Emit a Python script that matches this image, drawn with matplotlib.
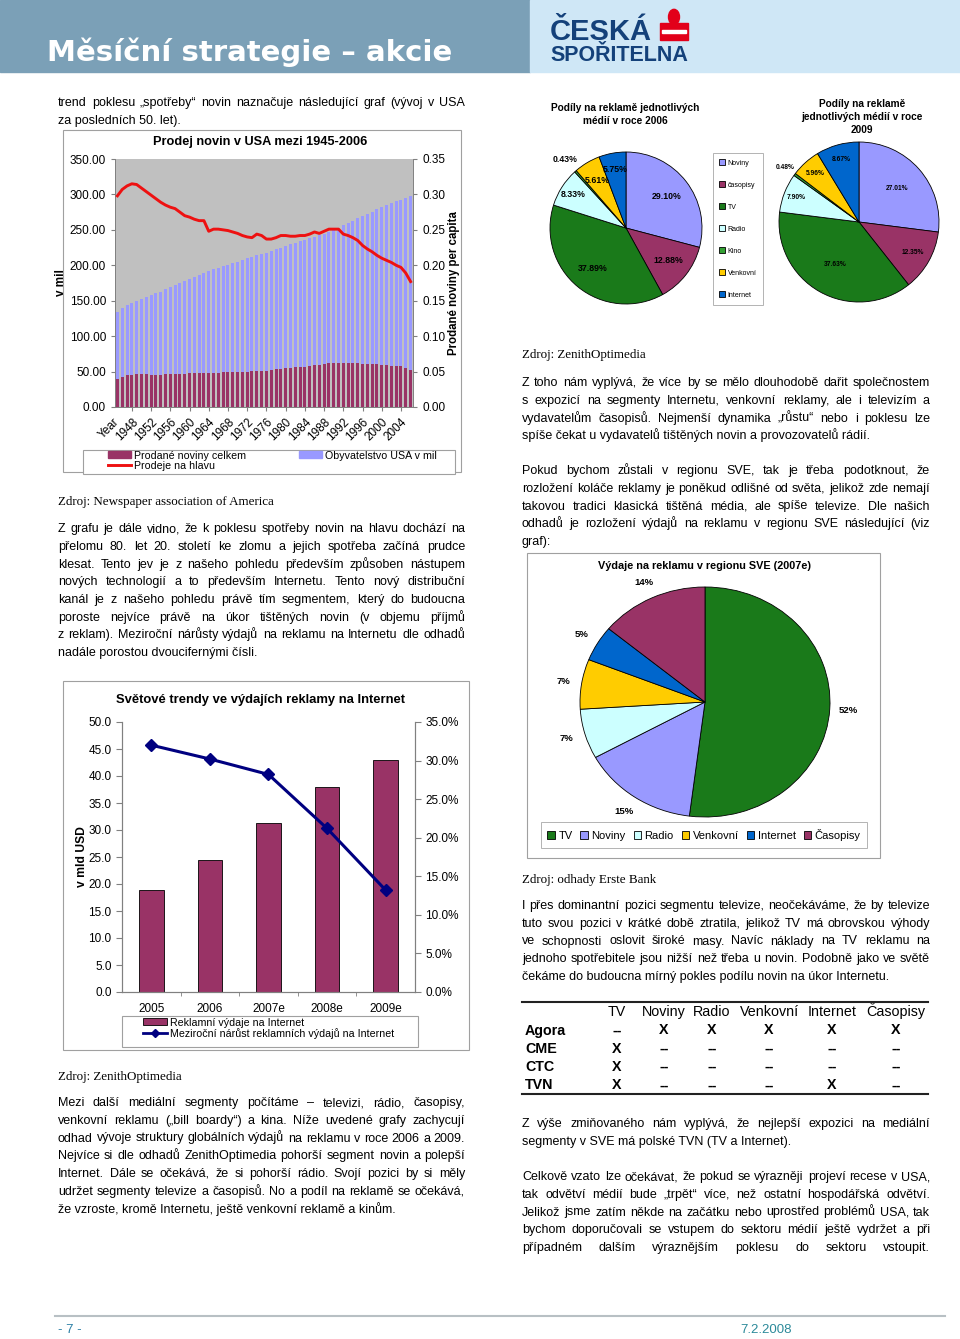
import matplotlib
matplotlib.use('Agg')
import matplotlib.pyplot as plt
from matplotlib.patches import Rectangle, Circle, Patch
from matplotlib.lines import Line2D
import numpy as np

plt.rcParams['font.family'] = ['Liberation Sans', 'DejaVu Sans']

W, H = 960, 1339

# --- newspaper sales in USA 1945-2006 ---
years = list(range(1945, 2007))
population = [134.0, 140.0, 144.1, 146.6, 149.2, 152.3, 154.9, 157.6, 160.2, 163.0,
              165.9, 168.9, 172.0, 174.9, 177.8, 180.7, 183.7, 186.5, 189.2, 191.9,
              194.3, 196.6, 198.7, 200.7, 202.7, 205.1, 207.7, 209.9, 211.9, 213.9,
              216.0, 218.0, 220.2, 222.6, 225.1, 227.2, 229.5, 231.7, 233.8, 235.8,
              237.9, 240.1, 242.3, 244.5, 246.8, 249.6, 253.0, 256.5, 259.9, 263.1,
              266.3, 269.4, 272.6, 275.9, 279.0, 282.2, 285.0, 287.6, 290.1, 292.8,
              295.5, 298.4]
circulation = [40.0, 43.0, 44.5, 45.5, 46.0, 46.5, 46.0, 45.5, 45.5, 45.5,
               46.0, 46.5, 46.5, 46.5, 47.0, 47.5, 47.5, 48.0, 48.0, 47.5,
               47.5, 48.0, 49.0, 49.0, 49.5, 49.5, 50.0, 50.0, 50.5, 51.0,
               51.0, 51.5, 52.0, 53.0, 54.0, 55.0, 55.5, 56.0, 56.5, 57.0,
               58.0, 59.0, 59.5, 61.0, 61.5, 62.5, 62.0, 62.0, 62.0, 62.0,
               61.5, 61.0, 60.5, 60.0, 60.0, 59.5, 59.0, 58.5, 58.0, 57.5,
               55.0, 52.5]
per_capita = [0.298, 0.307, 0.312, 0.315, 0.314, 0.309, 0.304, 0.299, 0.294, 0.289,
              0.285, 0.282, 0.280, 0.275, 0.270, 0.268, 0.265, 0.263, 0.263, 0.248,
              0.251, 0.251, 0.250, 0.249, 0.247, 0.245, 0.242, 0.240, 0.239, 0.244,
              0.242, 0.237, 0.237, 0.239, 0.242, 0.242, 0.241, 0.241, 0.242, 0.242,
              0.244, 0.247, 0.245, 0.248, 0.251, 0.251, 0.251, 0.244, 0.242, 0.239,
              0.235, 0.228, 0.223, 0.219, 0.214, 0.210, 0.207, 0.204, 0.200, 0.197,
              0.189, 0.177]

# --- internet ad spend ---
net_years = ['2005', '2006', '2007e', '2008e', '2009e']
net_spend = [18.8, 24.5, 31.3, 38.0, 42.9]
net_growth = [32.0, 30.2, 28.2, 21.2, 13.2]

# --- media shares ---
media = ['Noviny', 'časopisy', 'TV', 'Radio', 'Kino', 'Venkovní', 'Internet']
media_colors = ['#9999ff', '#993366', '#1a7a1a', '#ccffff', '#33a033', '#ffcc00', '#0066cc']
share_2006 = [29.10, 12.88, 37.89, 8.33, 0.43, 5.61, 5.75]
share_2009 = [27.01, 12.35, 37.63, 7.90, 0.48, 5.96, 8.67]

sve_media = ['TV', 'Noviny', 'Radio', 'Venkovní', 'Internet', 'Časopisy']
sve_colors = ['#1a7a1a', '#9999ff', '#ccffff', '#ffcc00', '#0066cc', '#993366']
sve_share = [52, 15, 7, 7, 5, 14]

table_cols = ['TV', 'Noviny', 'Radio', 'Venkovní', 'Internet', 'Časopisy']
table_rows = ['Agora', 'CME', 'CTC', 'TVN']
table_cells = [['--', 'X', 'X', 'X', 'X', 'X'],
               ['X', '--', '--', '--', '--', '--'],
               ['X', '--', '--', '--', '--', '--'],
               ['X', '--', '--', '--', 'X', '--']]

fig = plt.figure(figsize=(9.6, 13.39), dpi=100)
renderer = fig.canvas.get_renderer()


def fx(x):
    return x / W


def fy(y):
    return 1 - y / H


def box(x0, y0, x1, y1):
    return [x0 / W, 1 - y1 / H, (x1 - x0) / W, (y1 - y0) / H]


def frame(x0, y0, x1, y1, color='#a0a0a0', face='none', lw=0.8):
    fig.patches.append(Rectangle((fx(x0), fy(y1)), (x1 - x0) / W, (y1 - y0) / H,
                                 transform=fig.transFigure, facecolor=face,
                                 edgecolor=color, lw=lw))


def put_line(text, x0, x1, y, justify, **kw):
    """Write one line of text, spread to full width when justify"""
    words = text.split()
    if not justify or len(words) < 2:
        fig.text(fx(x0), fy(y), text, va='baseline', **kw)
        return
    objs = [fig.text(0, fy(y), w, va='baseline', **kw) for w in words]
    widths = [o.get_window_extent(renderer).width for o in objs]
    gap = (x1 - x0 - sum(widths)) / (len(words) - 1)
    x = x0
    for o, w in zip(objs, widths):
        o.set_x(fx(x))
        x += w + gap


def paragraph(lines, x0, x1, y0, last=False, step=17.75):
    for i, line in enumerate(lines):
        justify = i < len(lines) - 1 or last
        put_line(line, x0, x1, y0 + 5 + i * step, justify, fontsize=9.03)


def source(text, x, y):
    fig.text(fx(x), fy(y + 4), text, va='baseline', fontsize=9.35,
             family='Liberation Serif')


# header
fig.patches.append(Rectangle((0, fy(72)), fx(530), 72 / H, transform=fig.transFigure,
                             color='#7ba0b7'))
fig.patches.append(Rectangle((fx(530), fy(72)), 1 - fx(530), 72 / H,
                             transform=fig.transFigure, color='#cfe7f6'))
fig.text(fx(47), fy(61), 'Měsíční strategie – akcie', color='white', fontsize=21,
         fontweight='bold', family='DejaVu Sans', va='baseline')
fig.text(fx(550), fy(40), 'ČESKÁ', color='#14417a', fontsize=21, fontweight='bold',
         va='baseline')
fig.text(fx(550), fy(61), 'SPOŘITELNA', color='#14417a', fontsize=15.5,
         fontweight='bold', va='baseline')
fig.patches.append(Rectangle((fx(660), fy(40)), 28 / W, 17 / H, transform=fig.transFigure,
                             color='#e2001a'))
fig.patches.append(Rectangle((fx(662), fy(33)), 24 / W, 3 / H, transform=fig.transFigure,
                             color='white'))
fig.patches.append(Circle((fx(674), fy(17)), 5.5 / W, transform=fig.transFigure,
                          color='#e2001a'))

# ---------------- chart 1 ----------------
frame(63, 130, 461, 472)
ax1 = fig.add_axes(box(115, 159, 413, 407))
x = np.arange(len(years))
ax1.set_facecolor('#c0c0c0')
ax1.bar(x, population, width=0.62, color='#9999ff', zorder=2)
ax1.bar(x, circulation, width=0.62, color='#993366', zorder=3)
ax1.set_xlim(-0.5, len(years) - 0.5)
ax1.set_ylim(0, 350)
ax1.set_yticks(np.arange(0, 351, 50))
ax1.set_yticklabels(['%.2f' % v for v in np.arange(0, 351, 50)])
xt = list(range(3, len(years), 4))
ax1.set_xticks(xt)
ax1.set_xticklabels([str(years[i]) for i in xt], rotation=45, ha='right',
                    rotation_mode='anchor')
ax1.text(-1, -0.035, 'Year', transform=ax1.get_xaxis_transform(), rotation=45,
         ha='right', va='top', rotation_mode='anchor', fontsize=8.5, clip_on=False)
ax1.tick_params(labelsize=8.5, length=3, color='#808080')
ax1.set_ylabel('v mil', fontsize=8.5, fontweight='bold', labelpad=2)
ax1r = ax1.twinx()
ax1r.plot(x, per_capita, color='#ee1111', lw=2.1, zorder=4)
ax1r.set_ylim(0, 0.35)
ax1r.set_yticks(np.arange(0, 0.351, 0.05))
ax1r.set_yticklabels(['%.2f' % v for v in np.arange(0, 0.351, 0.05)])
ax1r.tick_params(labelsize=8.5, length=3, color='#808080')
ax1r.set_ylabel('Prodané noviny per capita', fontsize=8.3, fontweight='bold', labelpad=2)
for a in (ax1, ax1r):
    a.spines['top'].set_visible(False)
    for s in ('left', 'right', 'bottom'):
        a.spines[s].set_color('#808080')
        a.spines[s].set_linewidth(0.6)
fig.text(fx(260), fy(142), 'Prodej novin v USA mezi 1945-2006', ha='center', va='center',
         fontsize=9.2, fontweight='bold')
frame(83, 450, 455, 474, face='white')
h1 = [Patch(color='#993366'), Line2D([], [], color='#ee1111', lw=2.1),
      Patch(color='#9999ff')]
fig.legend(h1, ['Prodané noviny celkem', 'Prodeje na hlavu', 'Obyvatelstvo USA v mil'],
           ncol=2, loc='upper left', bbox_to_anchor=(fx(107), fy(450)), frameon=False,
           fontsize=7.7, handlelength=2.2, handleheight=0.6, columnspacing=4.9,
           labelspacing=0.0, borderpad=0.05, borderaxespad=0, handletextpad=0.3)

source('Zdroj: Newspaper association of America', 58, 501)

# ---------------- chart 2 ----------------
frame(63, 681, 469, 1050)
ax2 = fig.add_axes(box(122, 722, 415, 992))
x2 = np.arange(len(net_years))
ax2.bar(x2, net_spend, width=0.42, color='#993366', edgecolor='black', lw=0.6)
ax2.set_xlim(-0.5, len(net_years) - 0.5)
ax2.set_ylim(0, 50)
ax2.set_yticks(np.arange(0, 50.1, 5))
ax2.set_yticklabels(['%.1f' % v for v in np.arange(0, 50.1, 5)])
ax2.set_xticks(x2)
ax2.set_xticklabels(net_years)
ax2.set_xticks(x2[:-1] + 0.5, minor=True)
ax2.tick_params(axis='x', which='major', length=0, pad=8)
ax2.tick_params(axis='x', which='minor', length=3, color='#808080')
ax2.tick_params(labelsize=8.5)
ax2.tick_params(axis='y', length=4, color='#808080')
ax2.set_ylabel('v mld USD', fontsize=8.7, fontweight='bold', labelpad=0)
ax2r = ax2.twinx()
ax2r.plot(x2, net_growth, color='#000080', lw=2.2, marker='D', markersize=6)
ax2r.set_ylim(0, 35)
ax2r.set_yticks(np.arange(0, 35.1, 5))
ax2r.set_yticklabels(['%.1f%%' % v for v in np.arange(0, 35.1, 5)])
ax2r.tick_params(labelsize=8.5, length=4, color='#808080')
for a in (ax2, ax2r):
    a.spines['top'].set_visible(False)
    for s in ('left', 'right', 'bottom'):
        a.spines[s].set_color('#808080')
        a.spines[s].set_linewidth(0.8)
fig.text(fx(261), fy(700), 'Světové trendy ve výdajích reklamy na Internet', ha='center',
         va='center', fontsize=9.4, fontweight='bold')
frame(122, 1016, 418, 1047, face='white')
h2 = [Patch(facecolor='#993366', edgecolor='black', lw=0.6),
      Line2D([], [], color='#000080', lw=2, marker='D', markersize=4.5)]
fig.legend(h2, ['Reklamní výdaje na Internet',
                'Meziroční nárůst reklamních výdajů na Internet'],
           loc='upper left', bbox_to_anchor=(fx(142), fy(1017)), frameon=False,
           fontsize=7.7, handlelength=2.3, handleheight=0.6, labelspacing=0.05,
           borderpad=0.05, borderaxespad=0, handletextpad=0.3)

source('Zdroj: ZenithOptimedia', 58, 1076)


# ---------------- world pies ----------------
def media_pie(cx, cy, r, values, radii, size):
    ax = fig.add_axes(box(cx - r, cy - r, cx + r, cy + r))
    wedges, _ = ax.pie(values, colors=media_colors, startangle=90, counterclock=False,
                       wedgeprops=dict(edgecolor='black', lw=0.6))
    ax.set_xlim(-1, 1)
    ax.set_ylim(-1, 1)
    for w, v, rr in zip(wedges, values, radii):
        ang = np.deg2rad((w.theta1 + w.theta2) / 2)
        ax.text(rr * np.cos(ang), rr * np.sin(ang), '%.2f%%' % v, ha='center',
                va='center', fontsize=size, fontweight='bold')
    return wedges


w06 = media_pie(626, 228, 76, share_2006, [0.67, 0.70, 0.69, 0.83, 1.21, 0.73, 0.78], 6.3)
media_pie(859, 222, 80, share_2009, [0.63, 0.77, 0.61, 0.85, 1.15, 0.82, 0.81], 4.8)
for i, t in enumerate(['Podíly na reklamě jednotlivých', 'médií v roce 2006']):
    fig.text(fx(625), fy(108 + 13 * i), t, ha='center', va='center', fontsize=7.3,
             fontweight='bold')
for i, t in enumerate(['Podíly na reklamě', 'jednotlivých médií v roce', '2009']):
    fig.text(fx(862), fy(104 + 13 * i), t, ha='center', va='center', fontsize=7.3,
             fontweight='bold')
leg = fig.legend(w06, media, loc='center', bbox_to_anchor=(fx(738), fy(229)), fontsize=5,
                 fancybox=False, edgecolor='#a0a0a0', labelspacing=2.15, handlelength=0.8,
                 handleheight=0.8, handletextpad=0.4, borderpad=0.9)
leg.get_frame().set_linewidth(0.7)

source('Zdroj: ZenithOptimedia', 522, 354)

# ---------------- SVE pie ----------------
frame(527, 553, 880, 858)
ax3 = fig.add_axes(box(705 - 125, 702 - 115, 705 + 125, 702 + 115))
w3, _, _ = ax3.pie(sve_share, colors=sve_colors, startangle=90, counterclock=False,
                   autopct='%.0f%%', pctdistance=1.15,
                   wedgeprops=dict(edgecolor='black', lw=0.6),
                   textprops=dict(fontsize=6.8, fontweight='bold'))
ax3.set_aspect('auto')
ax3.set_xlim(-1, 1)
ax3.set_ylim(-1, 1)
fig.text(fx(704), fy(566), 'Výdaje na reklamu v regionu SVE (2007e)', ha='center',
         va='center', fontsize=7.8, fontweight='bold')
leg3 = fig.legend(w3, sve_media, ncol=6, loc='center', bbox_to_anchor=(fx(704), fy(835)),
                  fontsize=8, fancybox=False, edgecolor='#a0a0a0', handlelength=0.7,
                  handleheight=0.7, handletextpad=0.3, columnspacing=0.7, borderpad=0.6)
leg3.get_frame().set_linewidth(0.7)

source('Zdroj: odhady Erste Bank', 522, 879)

# ---------------- table ----------------
col_x = [617, 664, 712, 769, 832, 896]
fig.add_artist(Line2D([fx(522), fx(928)], [fy(1002), fy(1002)], color='#222222', lw=1.5))
fig.add_artist(Line2D([fx(522), fx(928)], [fy(1094), fy(1094)], color='#222222', lw=1.5))
for cx, name in zip(col_x, table_cols):
    fig.text(fx(cx), fy(1016), name, ha='center', va='baseline', fontsize=10.3)
for r, (name, cells) in enumerate(zip(table_rows, table_cells)):
    yb = 1034.5 + r * 18.3
    fig.text(fx(525), fy(yb), name, va='baseline', fontsize=10.3, fontweight='bold')
    for cx, c in zip(col_x, cells):
        fig.text(fx(cx), fy(yb), c, ha='center', va='baseline', fontsize=10.3,
                 fontweight='bold')

# ---------------- text ----------------
L0, L1, R0, R1 = 58, 465, 522, 930
paragraph(['trend poklesu „spotřeby“ novin naznačuje následující graf (vývoj v USA',
           'za posledních 50. let).'], L0, L1, 101)
paragraph(['Z grafu je dále vidno, že k poklesu spotřeby novin na hlavu dochází na',
           'přelomu 80. let 20. století ke zlomu a jejich spotřeba začíná prudce',
           'klesat. Tento jev je z našeho pohledu především způsoben nástupem',
           'nových technologií a to především Internetu. Tento nový distribuční',
           'kanál je z našeho pohledu právě tím segmentem, který do budoucna',
           'poroste nejvíce právě na úkor tištěných novin (v objemu příjmů',
           'z reklam). Meziroční nárůsty výdajů na reklamu na Internetu dle odhadů',
           'nadále porostou dvoucifernými čísli.'], L0, L1, 527)
paragraph(['Mezi další mediální segmenty počítáme – televizi, rádio, časopisy,',
           'venkovní reklamu („bill boardy“) a kina. Níže uvedené grafy zachycují',
           'odhad vývoje struktury globálních výdajů na reklamu v roce 2006 a 2009.',
           'Nejvíce si dle odhadů ZenithOptimedia pohorší segment novin a polepší',
           'Internet. Dále se očekává, že si pohorší rádio. Svojí pozici by si měly',
           'udržet segmenty televize a časopisů. No a podíl na reklamě se očekává,',
           'že vzroste, kromě Internetu, ještě venkovní reklamě a kinům.'], L0, L1, 1101)
paragraph(['Z toho nám vyplývá, že více by se mělo dlouhodobě dařit společnostem',
           's expozicí na segmenty Internetu, venkovní reklamy, ale i televizím a',
           'vydavatelům časopisů. Nejmenší dynamika „růstu“ nebo i poklesu lze',
           'spíše čekat u vydavatelů tištěných novin a provozovatelů rádií.'], R0, R1, 381)
paragraph(['Pokud bychom zůstali v regionu SVE, tak je třeba podotknout, že',
           'rozložení koláče reklamy je poněkud odlišné od světa, jelikož zde nemají',
           'takovou tradici klasická tištěná média, ale spíše televize. Dle našich',
           'odhadů je rozložení výdajů na reklamu v regionu SVE následující (viz',
           'graf):'], R0, R1, 469)
paragraph(['I přes dominantní pozici segmentu televize, neočekáváme, že by televize',
           'tuto svou pozici v krátké době ztratila, jelikož TV má obrovskou výhody',
           've schopnosti oslovit široké masy. Navíc náklady na TV reklamu na',
           'jednoho spotřebitele jsou nižší než třeba u novin. Podobně jako ve světě',
           'čekáme do budoucna mírný pokles podílu novin na úkor Internetu.'], R0, R1, 904)
paragraph(['Z výše zmiňovaného nám vyplývá, že nejlepší expozici na mediální',
           'segmenty v SVE má polské TVN (TV a Internet).'], R0, R1, 1122)
paragraph(['Celkově vzato lze očekávat, že pokud se výrazněji projeví recese v USA,',
           'tak odvětví médií bude „trpět“ více, než ostatní hospodářská odvětví.',
           'Jelikož jsme zatím někde na začátku nebo uprostřed problémů USA, tak',
           'bychom doporučovali se vstupem do sektoru médií ještě vydržet a při',
           'případném dalším výraznějším poklesu do sektoru vstoupit.'], R0, R1, 1175,
          last=True)

# footer
fig.add_artist(Line2D([fx(55), fx(945)], [fy(1316), fy(1316)], color='#b8c0c4', lw=1.5))
fig.text(fx(58), fy(1333), '- 7 -', color='#2c7fa5', fontsize=9.5, va='baseline')
fig.text(fx(740), fy(1333), '7.2.2008', color='#2c8a9a', fontsize=9.5, va='baseline')

fig.savefig('out.png', dpi=100)
